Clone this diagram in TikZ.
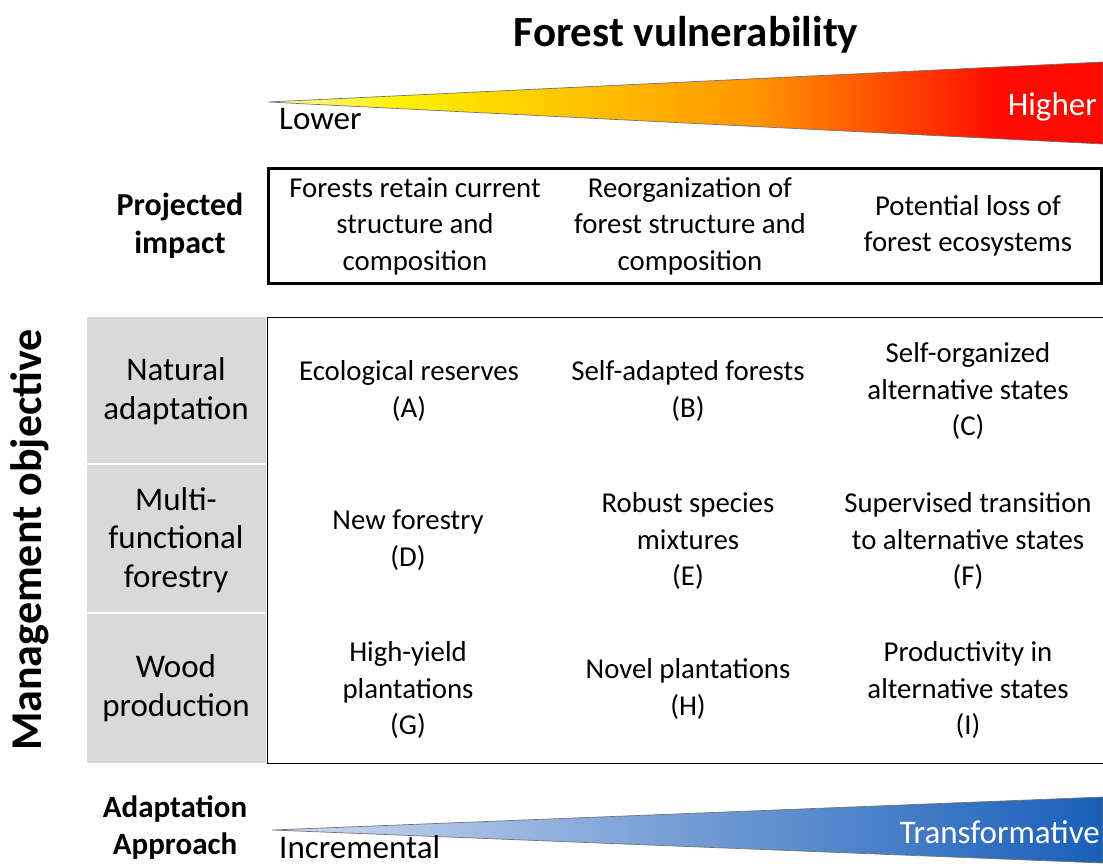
\documentclass[tikz,border=0pt]{standalone}
\usepackage{fontspec}
\setmainfont{Carlito}
\usetikzlibrary{calc}
\definecolor{cellgray}{RGB}{217,217,217}
\definecolor{paleyellow}{RGB}{250,250,170}
\definecolor{vyellow}{RGB}{255,240,0}
\definecolor{vorange}{RGB}{255,150,0}
\definecolor{vred}{RGB}{255,10,0}
\definecolor{lightblue}{RGB}{205,218,240}
\definecolor{deepblue}{RGB}{25,95,185}
\pgfdeclarehorizontalshading{vuln}{100bp}{color(0bp)=(paleyellow); color(25bp)=(paleyellow); color(33bp)=(vyellow); color(54bp)=(vorange); color(69bp)=(vred); color(100bp)=(vred)}
\tikzset{
  celltext/.style={align=center, font=\fontsize{28.8}{36.5}\selectfont, inner sep=0pt},
  rowlabel/.style={align=center, font=\fontsize{33}{38.5}\selectfont, inner sep=0pt},
  headlabel/.style={align=center, font=\bfseries\fontsize{32}{38}\selectfont, inner sep=0pt},
  endlabel/.style={font=\fontsize{33}{36}\selectfont, inner sep=0pt},
  wedge/.style={draw=black!55, line width=0.7pt},
}
\begin{document}
\begin{tikzpicture}[x=1pt,y=-1pt]
\useasboundingbox (0,0) rectangle (1103,865);

% title
\node[font=\bfseries\fontsize{43}{48}\selectfont, inner sep=0pt] (title) at (686,35) {Forest vulnerability};

% vulnerability wedge
\coordinate (vtip) at (268,102);
\coordinate (vtop) at (1103,62);
\coordinate (vbot) at (1103,144);
\shade[shading=vuln, wedge] (vtip) -- (vtop) -- (vbot) -- cycle;
\node[endlabel, anchor=west] (lower) at (279,119) {Lower};
\node[endlabel, anchor=east, text=white] (higher) at (1097,107) {Higher};

% projected impact
\node[headlabel] (proj) at (180,226) {Projected\\impact};
\draw[line width=3pt] (268,168) rectangle (1101,283);
\node[celltext] (p1) at (415,226) {Forests retain current\\structure and\\composition};
\node[celltext] (p2) at (690,226) {Reorganization of\\forest structure and\\composition};
\node[celltext] (p3) at (968,226) {Potential loss of\\forest ecosystems};

% management objective
\node[font=\bfseries\fontsize{44}{50}\selectfont, inner sep=0pt, rotate=90] (mgmt) at (30,540) {Management objective};

% gray label column
\fill[cellgray] (87,317) rectangle (266,763);
\draw[white, line width=1.5pt] (87,464) -- (266,464);
\draw[white, line width=1.5pt] (87,613) -- (266,613);
\node[rowlabel] (r1) at (176,391) {Natural\\adaptation};
\node[rowlabel] (r2) at (176,540) {Multi-\\functional\\forestry};
\node[rowlabel] (r3) at (176,688) {Wood\\production};

% main grid
\draw[black, line width=1pt] (267,317) rectangle (1103,763);
\node[celltext] (a) at (409,391) {Ecological reserves\\(A)};
\node[celltext] (b) at (688,391) {Self-adapted forests\\(B)};
\node[celltext] (c) at (968,391) {Self-organized\\alternative states\\(C)};
\node[celltext] (d) at (408,540) {New forestry\\(D)};
\node[celltext] (e) at (688,541) {Robust species\\mixtures\\(E)};
\node[celltext] (f) at (968,541) {Supervised transition\\to alternative states\\(F)};
\node[celltext] (g) at (408,690) {High-yield\\plantations\\(G)};
\node[celltext] (h) at (688,689) {Novel plantations\\(H)};
\node[celltext] (i) at (968,690) {Productivity in\\alternative states\\(I)};

% adaptation approach
\node[headlabel, font=\bfseries\fontsize{31}{37}\selectfont] (adapt) at (175,828) {Adaptation\\Approach};
\coordinate (btip) at (272,830);
\coordinate (btop) at (1103,797);
\coordinate (bbot) at (1103,863);
\shade[left color=lightblue, right color=deepblue, wedge] (btip) -- (btop) -- (bbot) -- cycle;
\node[endlabel, anchor=west] (incr) at (279,847) {Incremental};
\node[endlabel, anchor=east, text=white] (transf) at (1100,832) {Transformative};
\end{tikzpicture}
\end{document}
